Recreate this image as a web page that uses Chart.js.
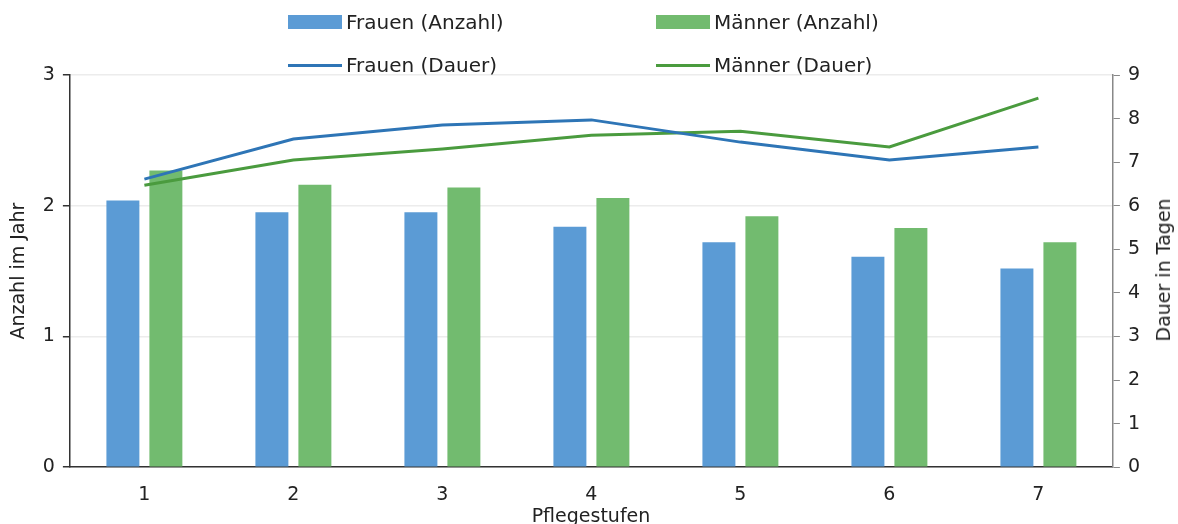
<!DOCTYPE html>
<html lang="de">
<head>
  <meta charset="UTF-8">
  <title>Pflegestufen</title>
  <style>
    body { margin: 0; background: #fff; font-family: "DejaVu Sans", sans-serif; }
    #wrap { position: relative; width: 1178px; height: 524px; overflow: hidden; }
    .leg { position: absolute; font-size: 20px; color: #222; display: flex; align-items: center; }
    .leg .box { width: 54px; height: 14px; margin-right: 4px; }
    .leg .ln { width: 54px; height: 3px; margin-right: 4px; }
    .title { position: absolute; font-size: 19px; color: #222; white-space: nowrap; }
  </style>
  <script src="https://cdn.jsdelivr.net/npm/chart.js"></script>
</head>
<body>
  <div id="wrap">
    <canvas id="chart" width="1178" height="524"></canvas>
    <div class="leg" style="left:288px; top:10px;"><span class="box" style="background:#5B9BD5"></span>Frauen (Anzahl)</div>
    <div class="leg" style="left:656px; top:10px;"><span class="box" style="background:#72BB6F"></span>Männer (Anzahl)</div>
    <div class="leg" style="left:288px; top:53px;"><span class="ln" style="background:#2E75B6"></span>Frauen (Dauer)</div>
    <div class="leg" style="left:656px; top:53px;"><span class="ln" style="background:#4A9B3E"></span>Männer (Dauer)</div>
    <div class="title" style="left:591px; top:515px; transform: translate(-50%, -50%);">Pflegestufen</div>
    <div class="title" style="left:1163px; top:270px; transform: translate(-50%, -50%) rotate(-90deg);">Dauer in Tagen</div>
  </div>

  <script>
    // Pflegestufen 1..7
    const stufen = ['1', '2', '3', '4', '5', '6', '7'];

    // Anzahl im Jahr (linke Achse)
    const frauenAnzahl = [2.04, 1.95, 1.95, 1.84, 1.72, 1.61, 1.52];
    const maennerAnzahl = [2.27, 2.16, 2.14, 2.06, 1.92, 1.83, 1.72];

    // Dauer in Tagen (rechte Achse)
    const frauenDauer = [6.61, 7.53, 7.85, 7.97, 7.46, 7.05, 7.35];
    const maennerDauer = [6.47, 7.05, 7.30, 7.62, 7.71, 7.35, 8.47];

    const tickFont = { family: 'DejaVu Sans', size: 19 };

    new Chart(document.getElementById('chart'), {
      type: 'bar',
      data: {
        labels: stufen,
        datasets: [
          {
            type: 'line',
            label: 'Frauen (Dauer)',
            data: frauenDauer,
            yAxisID: 'y2',
            borderColor: '#2E75B6',
            borderWidth: 3,
            pointRadius: 0,
            tension: 0
          },
          {
            type: 'line',
            label: 'Männer (Dauer)',
            data: maennerDauer,
            yAxisID: 'y2',
            borderColor: '#4A9B3E',
            borderWidth: 3,
            pointRadius: 0,
            tension: 0
          },
          {
            label: 'Frauen (Anzahl)',
            data: frauenAnzahl,
            yAxisID: 'y',
            backgroundColor: '#5B9BD5',
            categoryPercentage: 0.577,
            barPercentage: 0.767
          },
          {
            label: 'Männer (Anzahl)',
            data: maennerAnzahl,
            yAxisID: 'y',
            backgroundColor: '#72BB6F',
            categoryPercentage: 0.577,
            barPercentage: 0.767
          }
        ]
      },
      options: {
        responsive: false,
        animation: false,
        layout: { padding: { top: 75, left: 4, right: 30, bottom: 10 } },
        plugins: {
          legend: { display: false },
          tooltip: { enabled: false }
        },
        scales: {
          x: {
            grid: { display: false },
            border: { display: true, color: '#333', width: 1.5 },
            ticks: { font: tickFont, color: '#222', padding: 8 }
          },
          y: {
            position: 'left',
            min: 0,
            max: 3,
            ticks: { stepSize: 1, font: tickFont, color: '#222', padding: 8 },
            grid: { color: '#ececec', lineWidth: 1.5, tickLength: 7, tickColor: '#333' },
            border: { color: '#333', width: 1.5 },
            title: { display: true, text: 'Anzahl im Jahr', font: tickFont, color: '#222' }
          },
          y2: {
            position: 'right',
            min: 0,
            max: 9,
            ticks: { stepSize: 1, font: tickFont, color: '#222', padding: 8 },
            grid: { drawOnChartArea: false, tickLength: 7, tickColor: '#888' },
            border: { color: '#888', width: 1.5 }
          }
        }
      }
    });
  </script>
</body>
</html>
